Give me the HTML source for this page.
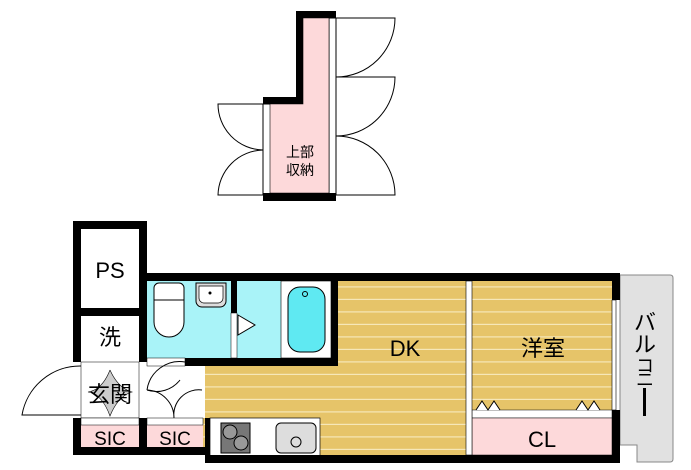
<!DOCTYPE html><html><head><style>body{margin:0;background:#fff}svg{display:block}text{font-family:"Liberation Sans","Noto Sans CJK JP",sans-serif}</style></head><body>
<svg width="691" height="470" viewBox="0 0 691 470">
<defs><pattern id="fl" width="10" height="12.5" patternUnits="userSpaceOnUse"><rect width="10" height="12.5" fill="#e6c469"/><rect y="11.3" width="10" height="1.2" fill="#f6e7b8"/></pattern></defs>
<g stroke="#000" fill="none" stroke-width="1">
<path d="M336 18 H395 A59 59 0 0 1 336 77"/><path d="M336 77 H395 A59 59 0 0 1 336 136"/><path d="M336 136 A59 59 0 0 1 395 195 H336"/>
<path d="M263 104 H218 A46 46 0 0 0 263 150"/><path d="M263 150 A46 46 0 0 0 218 195 H263"/>
</g>
<rect x="263" y="104" width="73" height="90" fill="#fff" stroke="#000"/>
<rect x="329" y="18" width="7" height="176" fill="#fff" stroke="#000"/>
<polygon points="270,104 303,104 303,18 329,18 329,193 270,193" fill="#fdd9da" stroke="#000" stroke-width="0.6"/>
<polygon points="296,11 336,11 336,18 303,18 303,104 263,104 263,97 296,97" fill="#000"/>
<rect x="263" y="193" width="73" height="8" fill="#000"/>
<text x="300" y="157" font-size="14" text-anchor="middle">上部</text><text x="300" y="175" font-size="14" text-anchor="middle">収納</text>
<path d="M620 275 H670 Q673 275 673 278 V459 Q673 462 670 462 H637 V445 H620 Z" fill="#e1e1e1" stroke="#888"/>
<text font-size="22" x="645" y="330" text-anchor="middle">バ</text><text font-size="22" x="645" y="352" text-anchor="middle">ル</text><text font-size="18" x="645" y="372" text-anchor="middle">コ</text><text font-size="18" x="645" y="386" text-anchor="middle">ニ</text>
<rect x="643" y="388" width="3" height="28" fill="#000"/>
<rect x="147" y="281" width="465" height="174" fill="url(#fl)"/>
<rect x="147" y="281" width="84" height="77" fill="#a9f3f8"/>
<rect x="237" y="281" width="44" height="77" fill="#a9f3f8"/>
<rect x="281" y="281" width="50" height="77" fill="#fff" stroke="#000" stroke-width="0.6"/>
<rect x="288" y="287" width="37" height="65" rx="12" fill="#5fe9f2" stroke="#000"/><circle cx="305" cy="294" r="2.5" fill="none" stroke="#000"/>
<rect x="154" y="283" width="30" height="25" rx="5" fill="#fff" stroke="#000"/><path d="M154 300 v22 a15 15 0 0 0 30 0 v-22 z" fill="#fff" stroke="#000"/>
<path d="M196 283 h30 v18 a6 6 0 0 1 -6 6 h-18 a6 6 0 0 1 -6 -6 z" fill="#ddd" stroke="#000"/><path d="M199 286 h24 v12 a5 5 0 0 1 -5 5 h-14 a5 5 0 0 1 -5 -5z" fill="#fff" stroke="#000" stroke-width="0.7"/><circle cx="210" cy="293" r="1.5" fill="#000"/>
<rect x="231" y="313" width="6" height="45" fill="#fff" stroke="#000" stroke-width="0.5"/>
<polygon points="238,315 255,325 238,335" fill="#fff" stroke="#000"/>
<rect x="81" y="362" width="58" height="56" fill="#fff" stroke="#000" stroke-width="0.5"/>
<rect x="147" y="366" width="58" height="52" fill="#fff"/>
<rect x="147" y="358" width="38" height="8" fill="#fff" stroke="#000" stroke-width="0.5"/>
<g fill="none" stroke="#000"><path d="M81 415 H22 A59 59 0 0 1 81 366"/><path d="M147 390 A33 33 0 0 1 185 362 M147 390 A30 30 0 0 0 180 380"/><path d="M147 390 a28 28 0 0 1 27 28 M174 418 a25 25 0 0 1 28 -28"/><path d="M110 370 q-8 20 -22 22 q14 2 22 24 q8 -20 22 -24 q-14 -4 -22 -22" fill="#ccc" stroke="#000" stroke-width="0.6"/></g>
<rect x="81" y="425" width="58" height="22" fill="#fdd9da"/><rect x="147" y="425" width="56" height="22" fill="#fdd9da"/>
<rect x="81" y="418" width="58" height="7" fill="#fff" stroke="#000" stroke-width="0.5"/><rect x="147" y="418" width="56" height="7" fill="#fff" stroke="#000" stroke-width="0.5"/>
<text x="110" y="445" font-size="19" text-anchor="middle">SIC</text><text x="175" y="445" font-size="19" text-anchor="middle">SIC</text>
<text x="110" y="402" font-size="22" text-anchor="middle">玄関</text>
<text x="110" y="345" font-size="22" text-anchor="middle">洗</text>
<text x="110" y="278" font-size="22" text-anchor="middle">PS</text>
<rect x="210" y="418" width="110" height="38" fill="#fff" stroke="#000" stroke-width="0.7"/>
<rect x="221" y="423" width="29" height="30" fill="#777" stroke="#000"/><circle cx="230" cy="432" r="7" fill="#999" stroke="#000"/><circle cx="241" cy="443" r="7" fill="#999" stroke="#000"/>
<rect x="276" y="423" width="40" height="30" rx="5" fill="#ddd" stroke="#000"/><circle cx="296" cy="442" r="5" fill="none" stroke="#000"/>
<rect x="472" y="410" width="140" height="8" fill="#fff" stroke="#000" stroke-width="0.5"/>
<rect x="472" y="418" width="140" height="37" fill="#fdd9da" stroke="#000" stroke-width="0.5"/>
<path d="M476 410 l6 -9 l6 9 l6 -9 l6 9 M576 410 l6 -9 l6 9 l6 -9 l6 9" fill="#fff" stroke="#000"/>
<rect x="466" y="281" width="6" height="174" fill="#fff" stroke="#000" stroke-width="0.6"/>
<rect x="612" y="300" width="4" height="110" fill="#fff" stroke="#000" stroke-width="0.6"/>
<text x="405" y="356" font-size="22" text-anchor="middle">DK</text>
<text x="543" y="356" font-size="22" text-anchor="middle">洋室</text>
<text x="542" y="447" font-size="22" text-anchor="middle">CL</text>
<g fill="#000">
<rect x="73" y="221" width="74" height="8"/><rect x="73" y="221" width="8" height="141"/><rect x="139" y="221" width="8" height="141"/>
<rect x="73" y="308" width="74" height="8"/>
<rect x="73" y="418" width="8" height="37"/><rect x="139" y="418" width="8" height="37"/><rect x="73" y="447" width="132" height="8"/>
<rect x="139" y="273" width="481" height="8"/><rect x="231" y="281" width="6" height="32"/>
<rect x="185" y="358" width="153" height="8"/><rect x="331" y="281" width="7" height="85"/>
<rect x="205" y="418" width="5" height="45"/><rect x="205" y="455" width="415" height="8"/>
<rect x="612" y="273" width="8" height="27"/><rect x="612" y="410" width="8" height="53"/>
</g>
</svg></body></html>
